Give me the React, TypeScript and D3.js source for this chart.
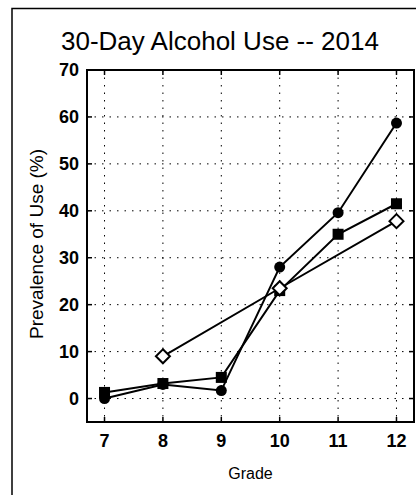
import React from 'react';
import * as d3 from 'd3';

const grades = [7, 8, 9, 10, 11, 12];
const yTicks = [0, 10, 20, 30, 40, 50, 60, 70];
const circleSeries = [0, 3, 1.7, 28, 39.6, 58.7];
const squareSeries = [1.3, 3.2, 4.5, 23, 35, 41.5];
const diamondGrades = [8, 10, 12];
const diamondSeries = [9, 23.5, 37.8];

const W = 416;
const H = 495;
const margin = { top: 70, right: 2, bottom: 73, left: 87 };

const App = () => {
  const x = d3.scaleLinear().domain([6.7, 12.3]).range([margin.left, W - margin.right]);
  const y = d3.scaleLinear().domain([-5, 70]).range([H - margin.bottom, margin.top]);
  const line = d3
    .line<[number, number]>()
    .x((d) => x(d[0]))
    .y((d) => y(d[1]));

  const circ = grades.map((g, i) => [g, circleSeries[i]] as [number, number]);
  const sq = grades.map((g, i) => [g, squareSeries[i]] as [number, number]);
  const dia = diamondGrades.map((g, i) => [g, diamondSeries[i]] as [number, number]);

  const x0 = margin.left;
  const x1 = W - margin.right;
  const y0 = margin.top;
  const y1 = H - margin.bottom;

  return (
    <svg
      width={W}
      height={H}
      style={{ position: 'absolute', left: 0, top: 0, background: '#fff' }}
      fontFamily="Arial, 'Liberation Sans', sans-serif"
    >
      {/* outer frame */}
      <rect x={12} y={8.5} width={W} height={H} fill="none" stroke="#000" strokeWidth={1.5} />

      <text x={220} y={50} textAnchor="middle" fontSize={26} fill="#000">
        30-Day Alcohol Use -- 2014
      </text>

      {/* grid */}
      {grades.map((g) => (
        <line key={'gx' + g} x1={x(g)} x2={x(g)} y1={y0} y2={y1} stroke="#000" strokeWidth={1} strokeDasharray="1.5,6" />
      ))}
      {yTicks.map((t) => (
        <line key={'gy' + t} x1={x0} x2={x1} y1={y(t)} y2={y(t)} stroke="#000" strokeWidth={1} strokeDasharray="1.5,6" />
      ))}

      {/* ticks inside */}
      {grades.map((g) => (
        <g key={'tx' + g}>
          <line x1={x(g)} x2={x(g)} y1={y1} y2={y1 - 5} stroke="#000" strokeWidth={1.5} />
          <line x1={x(g)} x2={x(g)} y1={y0} y2={y0 + 5} stroke="#000" strokeWidth={1.5} />
          <text x={x(g)} y={y1 + 25} textAnchor="middle" fontSize={18} fontWeight="bold">
            {g}
          </text>
        </g>
      ))}
      {yTicks.map((t) => (
        <g key={'ty' + t}>
          <line x1={x0} x2={x0 + 5} y1={y(t)} y2={y(t)} stroke="#000" strokeWidth={1.5} />
          <line x1={x1} x2={x1 - 5} y1={y(t)} y2={y(t)} stroke="#000" strokeWidth={1.5} />
          <text x={x0 - 8} y={y(t) + 6} textAnchor="end" fontSize={18} fontWeight="bold">
            {t}
          </text>
        </g>
      ))}

      <rect x={x0} y={y0} width={x1 - x0} height={y1 - y0} fill="none" stroke="#000" strokeWidth={2} />

      <text x={(x0 + x1) / 2} y={y1 + 57} textAnchor="middle" fontSize={16}>
        Grade
      </text>
      <text transform={`translate(43,${(y0 + y1) / 2 - 2}) rotate(-90)`} textAnchor="middle" fontSize={19}>
        Prevalence of Use (%)
      </text>

      {/* series */}
      <path d={line(dia) || ''} fill="none" stroke="#000" strokeWidth={2} />
      <path d={line(sq) || ''} fill="none" stroke="#000" strokeWidth={2} />
      <path d={line(circ) || ''} fill="none" stroke="#000" strokeWidth={2} />

      {circ.map((d, i) => (
        <circle key={'c' + i} cx={x(d[0])} cy={y(d[1])} r={5.5} fill="#000" />
      ))}
      {sq.map((d, i) => (
        <rect key={'s' + i} x={x(d[0]) - 5.5} y={y(d[1]) - 5.5} width={11} height={11} fill="#000" />
      ))}
      {dia.map((d, i) => (
        <path
          key={'d' + i}
          d={`M${x(d[0])},${y(d[1]) - 7}L${x(d[0]) + 7},${y(d[1])}L${x(d[0])},${y(d[1]) + 7}L${x(d[0]) - 7},${y(d[1])}Z`}
          fill="#fff"
          stroke="#000"
          strokeWidth={2}
        />
      ))}
    </svg>
  );
};

export default App;
